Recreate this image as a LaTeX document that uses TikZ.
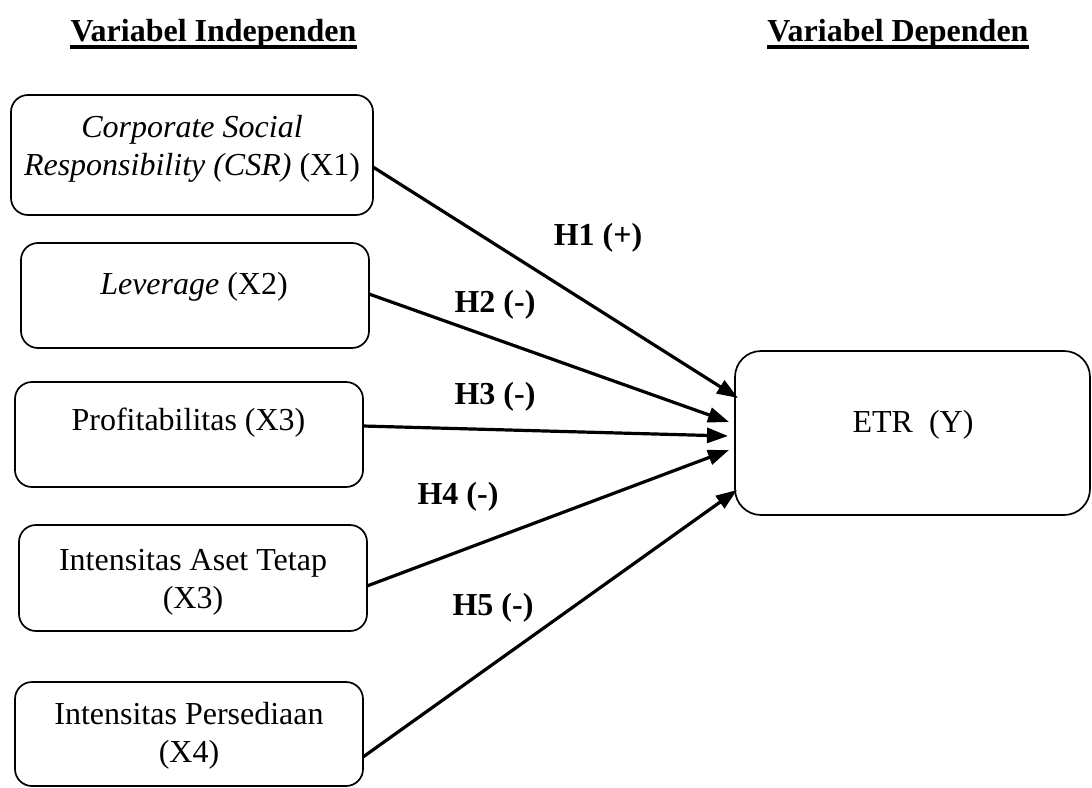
\documentclass[tikz,border=0pt]{standalone}
\usepackage{fontspec}
\setmainfont{Liberation Serif}
\usetikzlibrary{arrows.meta}
\begin{document}
\begin{tikzpicture}[x=1pt,y=-1pt,
  varbox/.style={draw=black,line width=1.7pt,rounded corners=17pt,inner sep=0pt},
  etrbox/.style={draw=black,line width=1.7pt,rounded corners=26pt,inner sep=0pt},
  txt/.style={inner sep=0pt,align=center,font=\fontsize{32}{38}\selectfont},
  hyp/.style={inner sep=0pt,font=\fontsize{32}{38}\selectfont\bfseries},
  hdr/.style={inner sep=0pt,font=\fontsize{32}{38}\selectfont\bfseries},
  ul/.style={line width=4pt},
  arr/.style={line width=3.2pt,-{Triangle[length=21pt,width=15pt]}}
]
\path[fill=white] (0,0) rectangle (1092,787);
\useasboundingbox (0,0) rectangle (1092,787);

% headers
\node[hdr,anchor=base] (h1) at (213.5,41) {Variabel Independen};
\node[hdr,anchor=base] (h2) at (898,41) {Variabel Dependen};
\draw[ul] ([yshift=-6pt]h1.base west) -- ([yshift=-6pt]h1.base east);
\draw[ul] ([yshift=-6pt]h2.base west) -- ([yshift=-6pt]h2.base east);

% boxes
\node[varbox,minimum width=362pt,minimum height=120pt] (b1) at (192,155) {};
\node[varbox,minimum width=348pt,minimum height=105pt] (b2) at (195,295.5) {};
\node[varbox,minimum width=348pt,minimum height=105pt] (b3) at (189,434.5) {};
\node[varbox,minimum width=348pt,minimum height=106pt] (b4) at (193,578) {};
\node[varbox,minimum width=348pt,minimum height=104pt] (b5) at (189,734) {};
\node[etrbox,minimum width=355pt,minimum height=164pt] (y) at (912.5,433) {};

% box texts
\node[txt] (t1) at (192,148.5) {\textit{Corporate Social}\\\textit{Responsibility (CSR)} (X1)};
\node[txt] (t2) at (194,287) {\textit{Leverage} (X2)};
\node[txt] (t3) at (188.5,423) {Profitabilitas (X3)};
\node[txt] (t4) at (193,582) {Intensitas Aset Tetap\\(X3)};
\node[txt] (t5) at (189,736) {Intensitas Persediaan\\(X4)};
\node[txt] (ty) at (913,425) {ETR\ \ (Y)};

% connector end points
\coordinate (s1) at (373,167);
\coordinate (s2) at (369,294);
\coordinate (s3) at (363,426);
\coordinate (s4) at (367,586);
\coordinate (s5) at (363,757);
\coordinate (e1) at (738,398);
\coordinate (e2) at (729,422);
\coordinate (e3) at (728,436);
\coordinate (e4) at (729,450);
\coordinate (e5) at (737,490);

\draw[arr] (s1) -- (e1);
\draw[arr] (s2) -- (e2);
\draw[arr] (s3) -- (e3);
\draw[arr] (s4) -- (e4);
\draw[arr] (s5) -- (e5);

% hypothesis labels
\node[hyp] (l1) at (598,238) {H1 (+)};
\node[hyp] (l2) at (495,305) {H2 (-)};
\node[hyp] (l3) at (495,397) {H3 (-)};
\node[hyp] (l4) at (458,497) {H4 (-)};
\node[hyp] (l5) at (493,608) {H5 (-)};
\end{tikzpicture}
\end{document}
